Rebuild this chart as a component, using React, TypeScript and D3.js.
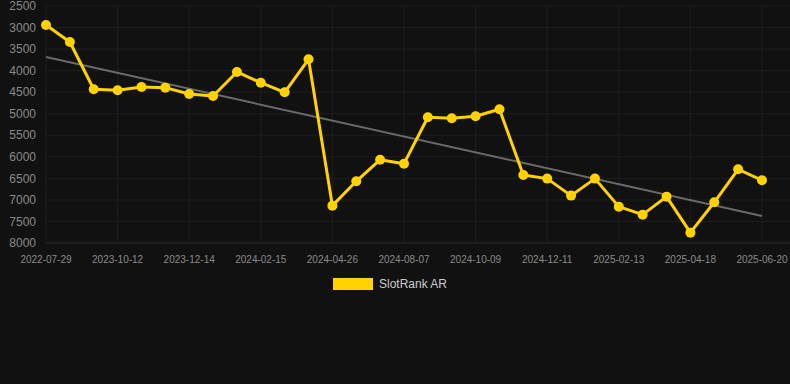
import React from "react";
import * as d3 from "d3";

const categories = [
  "2022-07-29", "2023-08-20", "2023-09-15", "2023-10-12", "2023-10-31", "2023-11-22",
  "2023-12-14", "2024-01-05", "2024-01-25", "2024-02-15", "2024-03-08", "2024-04-02",
  "2024-04-26", "2024-05-30", "2024-07-03", "2024-08-07", "2024-08-28", "2024-09-18",
  "2024-10-09", "2024-10-30", "2024-11-20", "2024-12-11", "2025-01-02", "2025-01-23",
  "2025-02-13", "2025-03-06", "2025-03-27", "2025-04-18", "2025-05-09", "2025-05-30",
  "2025-06-20",
];

const values = [
  2940, 3335, 4433, 4456, 4379, 4395, 4542, 4588, 4031, 4280, 4502, 3737,
  7133, 6568, 6066, 6159, 5082, 5106, 5060, 4897, 6421, 6506, 6900, 6506,
  7156, 7342, 6924, 7760, 7055, 6289, 6544,
];

const trendValues = [3683, 7372];

const yTicks = [2500, 3000, 3500, 4000, 4500, 5000, 5500, 6000, 6500, 7000, 7500, 8000];

const seriesName = "SlotRank AR";

export default function App() {
  const W = 790;
  const H = 384;
  const left = 46;
  const right = 762;
  const gridRight = 790;
  const top = 6;
  const bottom = 243;

  const x = d3.scalePoint<string>().domain(categories).range([left, right]);
  const y = d3.scaleLinear().domain([2500, 8000]).range([top, bottom]);

  const line = d3
    .line<number>()
    .x((_, i) => x(categories[i]) as number)
    .y((d) => y(d));

  const labeled = categories.filter((_, i) => i % 3 === 0);
  const font = "Arial, 'Liberation Sans', Helvetica, sans-serif";

  return (
    <svg
      width={W}
      height={H}
      style={{ position: "absolute", left: 0, top: 0, background: "#111111" }}
    >
      <rect x={0} y={0} width={W} height={H} fill="#111111" />
      {yTicks.map((t) => (
        <line
          key={"h" + t}
          x1={left}
          x2={gridRight}
          y1={y(t)}
          y2={y(t)}
          stroke={t === 8000 ? "#2a2a2a" : "#1f1f1f"}
          strokeWidth={1}
        />
      ))}
      {labeled.map((c) => (
        <line
          key={"v" + c}
          x1={x(c)}
          x2={x(c)}
          y1={top}
          y2={bottom}
          stroke="#1f1f1f"
          strokeWidth={1}
        />
      ))}
      {yTicks.map((t) => (
        <text
          key={"yl" + t}
          x={36}
          y={y(t)}
          dy="0.35em"
          textAnchor="end"
          fontSize={12}
          fontFamily={font}
          fill="#8a8a8a"
        >
          {t}
        </text>
      ))}
      {labeled.map((c) => (
        <text
          key={"xl" + c}
          x={x(c)}
          y={259}
          dy="0.35em"
          textAnchor="middle"
          fontSize={10}
          fontFamily={font}
          fill="#8a8a8a"
        >
          {c}
        </text>
      ))}
      <line
        x1={x(categories[0])}
        x2={x(categories[categories.length - 1])}
        y1={y(trendValues[0])}
        y2={y(trendValues[1])}
        stroke="#6a6a6a"
        strokeWidth={2}
      />
      <path
        d={line(values) || ""}
        fill="none"
        stroke="#FFD200"
        strokeWidth={3}
        strokeLinejoin="round"
      />
      {values.map((v, i) => (
        <circle
          key={"p" + i}
          cx={x(categories[i])}
          cy={y(v)}
          r={5}
          fill="#FFD200"
        />
      ))}
      <rect x={333} y={278} width={40} height={12} fill="#FFD200" />
      <text
        x={379}
        y={284}
        dy="0.35em"
        fontSize={12}
        fontFamily={font}
        fill="#cccccc"
      >
        {seriesName}
      </text>
    </svg>
  );
}
